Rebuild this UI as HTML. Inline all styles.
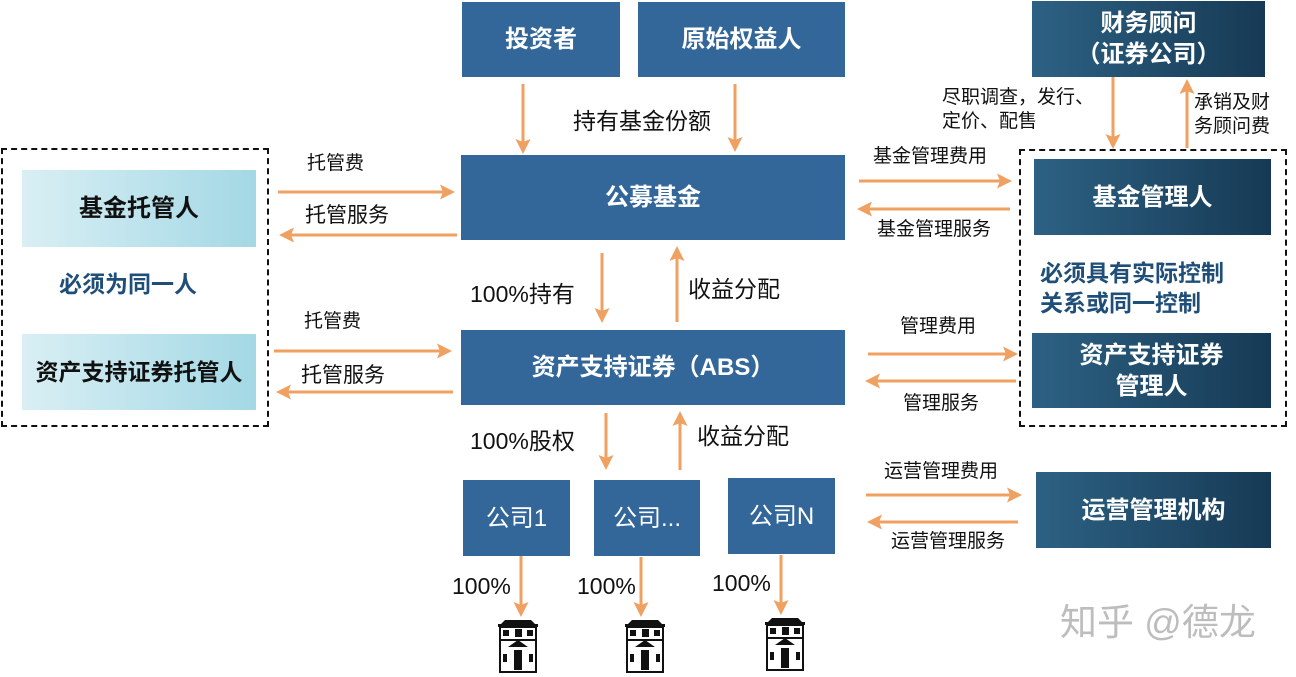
<!DOCTYPE html>
<html><head><meta charset="utf-8"><style>
body{margin:0;width:1296px;height:677px;background:#fff;position:relative;overflow:hidden;font-family:"Liberation Sans","Noto Sans CJK SC",sans-serif}
.b{position:absolute;display:flex;align-items:center;justify-content:center;text-align:center;color:#fff;font-weight:bold;font-size:24px;background:#336699;line-height:31px}
.d{background:linear-gradient(90deg,#2d6183,#163a55)}
.c{background:linear-gradient(90deg,#d9eff4,#a3d8e5);color:#111}
.t{position:absolute;white-space:nowrap;color:#111;line-height:1}
.n{font-weight:bold;color:#1f4e79;font-size:23px}
.dash{position:absolute;border:2px dashed #111;box-sizing:border-box}
</style></head><body>
<div class="dash" style="left:1px;top:148px;width:268px;height:279px"></div>
<div class="dash" style="left:1019px;top:149px;width:268px;height:278px"></div>
<div class="b" style="left:462px;top:2px;width:158px;height:75px">投资者</div>
<div class="b" style="left:638px;top:2px;width:207px;height:75px">原始权益人</div>
<div class="b d" style="left:1032px;top:1px;width:233px;height:76px">财务顾问<br>（证券公司）</div>
<div class="b" style="left:461px;top:155px;width:384px;height:85px">公募基金</div>
<div class="b c" style="left:22px;top:170px;width:234px;height:77px">基金托管人</div>
<div class="b c" style="left:22px;top:334px;width:234px;height:76px;font-size:23px">资产支持证券托管人</div>
<div class="b" style="left:461px;top:330px;width:384px;height:75px">资产支持证券（ABS）</div>
<div class="b" style="left:463px;top:480px;width:107px;height:76px;font-weight:normal">公司1</div>
<div class="b" style="left:594px;top:480px;width:106px;height:76px;font-weight:normal">公司...</div>
<div class="b" style="left:728px;top:478px;width:107px;height:76px;font-weight:normal">公司N</div>
<div class="b d" style="left:1034px;top:159px;width:237px;height:76px">基金管理人</div>
<div class="b d" style="left:1032px;top:333px;width:239px;height:75px">资产支持证券<br>管理人</div>
<div class="b d" style="left:1036px;top:472px;width:235px;height:76px">运营管理机构</div>
<div class="t n" style="left:59px;top:273px">必须为同一人</div>
<div class="t n" style="left:1040px;top:258px;line-height:30px">必须具有实际控制<br>关系或同一控制</div>

<div class="t" style="left:573px;top:110px;font-size:23px">持有基金份额</div>
<div class="t" style="left:307px;top:154px;font-size:19px">托管费</div>
<div class="t" style="left:305px;top:205px;font-size:21px">托管服务</div>
<div class="t" style="left:304px;top:312px;font-size:19px">托管费</div>
<div class="t" style="left:301px;top:365px;font-size:21px">托管服务</div>
<div class="t" style="left:470px;top:283px;font-size:23px">100%持有</div>
<div class="t" style="left:688px;top:278px;font-size:23px">收益分配</div>
<div class="t" style="left:470px;top:430px;font-size:23px">100%股权</div>
<div class="t" style="left:697px;top:425px;font-size:23px">收益分配</div>
<div class="t" style="left:452px;top:575px;font-size:23px">100%</div>
<div class="t" style="left:577px;top:575px;font-size:23px">100%</div>
<div class="t" style="left:712px;top:572px;font-size:23px">100%</div>
<div class="t" style="left:942px;top:86px;font-size:19px;line-height:24px">尽职调查，发行、<br>定价、配售</div>
<div class="t" style="left:1194px;top:91px;font-size:19px;line-height:24px">承销及财<br>务顾问费</div>
<div class="t" style="left:873px;top:147px;font-size:19px">基金管理费用</div>
<div class="t" style="left:877px;top:220px;font-size:19px">基金管理服务</div>
<div class="t" style="left:900px;top:317px;font-size:19px">管理费用</div>
<div class="t" style="left:903px;top:394px;font-size:19px">管理服务</div>
<div class="t" style="left:884px;top:462px;font-size:19px">运营管理费用</div>
<div class="t" style="left:891px;top:532px;font-size:19px">运营管理服务</div>
<div class="t" style="left:1060px;top:604px;font-size:37px;color:#bdbdbd">知乎 @德龙</div>

<svg width="1296" height="677" style="position:absolute;left:0;top:0" fill="none">
<defs><marker id="a" markerWidth="5" markerHeight="5" refX="4" refY="2.5" orient="auto" markerUnits="strokeWidth"><path d="M0,0L5,2.5L0,5L1,2.5z" fill="#f0a060"/></marker></defs>
<g stroke="#f0a060" stroke-width="3" marker-end="url(#a)">
<path d="M523 84V151"/><path d="M735 84V149"/>
<path d="M278 192H452"/><path d="M457 235H282"/>
<path d="M274 351H449"/><path d="M453 392H279"/>
<path d="M602 253V320"/><path d="M677 322V249"/>
<path d="M606 413V467"/><path d="M680 470V414"/>
<path d="M521 556V614"/><path d="M641 557V614"/><path d="M781 555V612"/>
<path d="M1113 77V146"/><path d="M1187 148V82"/>
<path d="M859 181H1009"/><path d="M1010 209H860"/>
<path d="M868 354H1015"/><path d="M1016 381H868"/>
<path d="M866 495H1019"/><path d="M1018 522H870"/>
</g>
<g id="h" fill="#111">
<path d="M498 624h40v3h-40z M505 620h26l4 4h-34z"/>
<rect x="500" y="627" width="36" height="45" fill="#fff" stroke="#111" stroke-width="2"/>
<rect x="503" y="630" width="6" height="6"/><rect x="515" y="629" width="7" height="8"/><rect x="527" y="630" width="6" height="6"/>
<path d="M500 639h36v2h-36z M508 647l10-7 10 7z"/>
<rect x="503" y="654" width="4" height="8"/><rect x="514" y="650" width="8" height="20"/><rect x="529" y="654" width="4" height="8"/>
</g>
<use href="#h" x="127"/><use href="#h" x="267" y="-2"/>
</svg>
</body></html>
